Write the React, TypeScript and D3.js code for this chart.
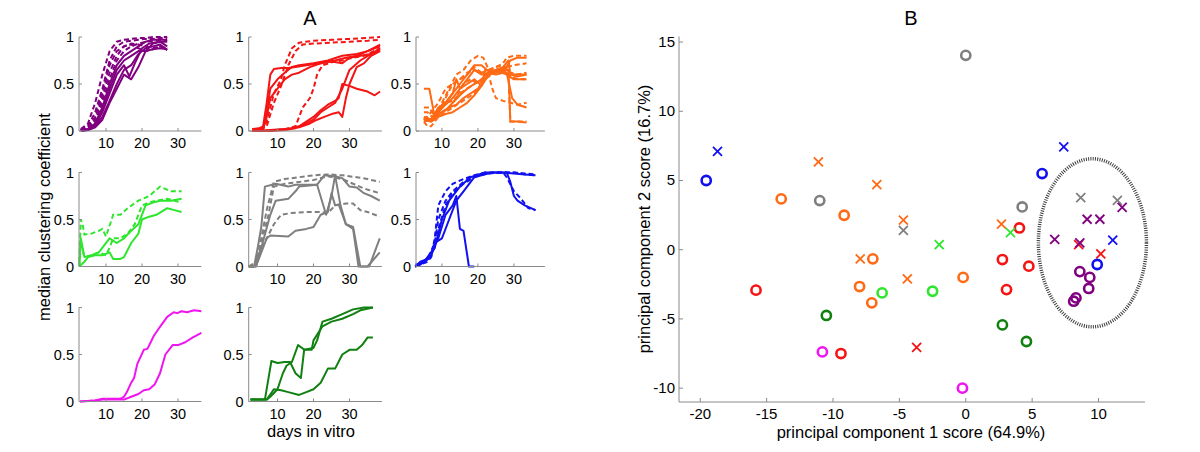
import React from "react";
import * as d3 from "d3";

// ---------- Panel A data: [day, median clustering coefficient] ----------
const daysTicks = [10, 20, 30];
const coefTicks = [0, 0.5, 1];

const purpleSolid = [
  [[3,0.01],[5,0.02],[7,0.08],[9,0.25],[11,0.5],[13,0.7],[15,0.8],[17,0.85],[19,0.9],[21,0.95],[23,0.97],[25,0.97],[27,0.97]],
  [[3,0],[5,0.02],[7,0.06],[9,0.2],[11,0.4],[13,0.6],[15,0.7],[16.5,0.58],[18,0.72],[20,0.88],[22,0.93],[25,0.95],[27,0.95]],
  [[3,0],[5,0.01],[7,0.05],[9,0.15],[11,0.32],[13,0.5],[15,0.65],[17,0.7],[19,0.82],[21,0.88],[23,0.9],[25,0.92],[27,0.86]],
  [[3,0],[5,0.01],[7,0.04],[9,0.12],[11,0.3],[13,0.45],[15,0.6],[17,0.55],[19,0.68],[21,0.85],[23,0.93],[25,0.95],[27,0.9]],
  [[3,0],[5,0.02],[7,0.07],[9,0.22],[11,0.45],[13,0.65],[15,0.75],[17,0.8],[19,0.85],[21,0.85],[23,0.87],[25,0.88],[27,0.87]],
];
const purpleDashed = [
  [[3,0.02],[5,0.08],[7,0.3],[9,0.6],[11,0.85],[13,0.95],[15,0.97],[17,0.98],[19,0.99],[21,0.99],[23,1],[25,1],[27,1]],
  [[3,0.01],[5,0.05],[7,0.2],[9,0.45],[11,0.75],[13,0.9],[15,0.95],[17,0.96],[19,0.97],[21,0.98],[23,0.98],[25,0.99],[27,0.99]],
  [[3,0.01],[5,0.03],[7,0.12],[9,0.35],[11,0.62],[13,0.8],[15,0.9],[17,0.93],[19,0.92],[21,0.9],[23,0.88],[25,0.9],[27,0.88]],
  [[3,0.01],[5,0.04],[7,0.15],[9,0.4],[11,0.7],[13,0.85],[15,0.9],[17,0.92],[19,0.88],[21,0.85],[23,0.87],[25,0.9],[27,0.88]],
  [[3,0.01],[5,0.03],[7,0.1],[9,0.3],[11,0.55],[13,0.75],[15,0.85],[17,0.9],[19,0.93],[21,0.95],[23,0.96],[25,0.97],[27,0.96]],
];

const redSolid = [
  [[3,0.02],[5,0.03],[6,0.05],[7,0.3],[8,0.6],[9,0.66],[11,0.67],[13,0.67],[15,0.68],[18,0.7],[22,0.72],[26,0.75],[29,0.78],[32,0.8],[35,0.85],[38.5,0.9]],
  [[3,0.02],[6,0.03],[7,0.2],[8,0.45],[10,0.55],[12,0.62],[14,0.68],[16,0.7],[20,0.72],[24,0.75],[28,0.8],[32,0.82],[35,0.85],[38.5,0.92]],
  [[3,0],[6,0.02],[7,0.15],[8,0.35],[10,0.45],[12,0.55],[14,0.6],[16,0.62],[19,0.68],[22,0.72],[25,0.74],[28,0.72],[30,0.78],[33,0.8],[36,0.82],[38.5,0.86]],
  [[3,0],[6,0],[10,0.01],[13,0.02],[16,0.05],[18,0.1],[20,0.15],[22,0.22],[24,0.28],[26,0.32],[27,0.35],[28,0.5],[30,0.48],[32,0.45],[35,0.42],[37,0.38],[38.5,0.42]],
  [[3,0],[8,0.01],[12,0.02],[16,0.04],[19,0.08],[21,0.12],[23,0.15],[25,0.18],[27,0.2],[28,0.15],[29,0.35],[30,0.5],[32,0.68],[34,0.72],[36,0.8],[38.5,0.85]],
  [[3,0],[8,0],[12,0.01],[15,0.03],[18,0.08],[20,0.12],[22,0.2],[24,0.25],[26,0.3],[28,0.45],[30,0.65],[33,0.75],[36,0.82],[38.5,0.88]],
];
const redDashed = [
  [[3,0],[5,0.01],[6,0.03],[7,0.1],[8,0.25],[9,0.4],[11,0.55],[12,0.7],[14,0.88],[16,0.94],[20,0.96],[25,0.97],[30,0.98],[35,0.99],[38.5,1]],
  [[3,0],[5,0.01],[7,0.05],[9,0.3],[11,0.48],[13,0.7],[15,0.85],[17,0.92],[20,0.93],[25,0.94],[30,0.95],[35,0.96],[38.5,0.97]],
  [[3,0],[8,0],[12,0.02],[15,0.05],[17,0.25],[19,0.35],[20,0.45],[21,0.6],[22.5,0.7],[25,0.73],[28,0.75],[31,0.78],[34,0.8],[38.5,0.88]],
];

const orangeSolid = [
  [[5,0.45],[6.5,0.45],[8,0.15],[10,0.2],[12,0.25],[14,0.28],[16,0.35],[18,0.4],[20,0.45],[22,0.55],[24,0.62],[26,0.65],[28,0.62],[29.5,0.35],[31,0.28],[33.5,0.25]],
  [[5,0.12],[7,0.1],[9,0.15],[11,0.18],[13,0.2],[15,0.25],[17,0.3],[19,0.38],[21,0.48],[23,0.6],[25,0.65],[27,0.66],[28.5,0.65],[29,0.1],[31,0.1],[33.5,0.09]],
  [[5,0.12],[7,0.13],[9,0.2],[11,0.28],[13,0.35],[15,0.45],[17,0.55],[19,0.65],[21,0.6],[23,0.62],[25,0.65],[27,0.68],[28.5,0.75],[29,0.6],[31,0.58],[33.5,0.6]],
  [[5,0.1],[7,0.12],[9,0.18],[11,0.22],[13,0.3],[15,0.38],[17,0.45],[19,0.5],[21,0.55],[23,0.62],[25,0.6],[27,0.62],[29,0.75],[31,0.78],[33.5,0.78]],
  [[5,0.15],[7,0.12],[9,0.25],[11,0.3],[13,0.4],[14,0.55],[15,0.45],[17,0.5],[19,0.55],[21,0.48],[22,0.65],[24,0.62],[26,0.63],[28,0.6],[30,0.55],[33.5,0.55]],
  [[5,0.13],[7,0.1],[9,0.22],[11,0.3],[13,0.4],[15,0.5],[17,0.6],[19,0.7],[21,0.7],[22.5,0.65],[24,0.65],[26,0.62],[28,0.65],[30,0.6],[33.5,0.6]],
];
const orangeDashed = [
  [[5,0.25],[6.5,0.25],[8,0.15],[10,0.3],[12,0.45],[14,0.6],[16,0.65],[18,0.75],[20,0.8],[21.5,0.78],[23,0.65],[25,0.68],[27,0.72],[28,0.78],[30,0.8],[33.5,0.8]],
  [[5,0.12],[7,0.15],[9,0.2],[11,0.35],[13,0.5],[15,0.55],[17,0.6],[19,0.68],[21,0.62],[23,0.6],[25,0.62],[27,0.65],[29,0.58],[31,0.55],[33.5,0.55]],
  [[5,0.15],[7,0.12],[9,0.22],[11,0.3],[13,0.32],[15,0.4],[17,0.45],[19,0.5],[21,0.55],[23,0.6],[24,0.45],[25,0.35],[27,0.32],[29,0.3],[31,0.28],[33.5,0.3]],
  [[5,0.1],[6,0.05],[7,0.05],[9,0.15],[11,0.2],[13,0.25],[15,0.3],[17,0.35],[19,0.4],[21,0.5],[23,0.6],[25,0.65],[27,0.68],[28.5,0.6],[29,0.1],[31,0.1],[33.5,0.1]],
  [[5,0.12],[7,0.2],[9,0.3],[11,0.45],[13,0.5],[15,0.55],[17,0.62],[19,0.65],[21,0.62],[23,0.65],[25,0.68],[27,0.7],[29,0.62],[31,0.6],[33.5,0.62]],
  [[5,0.2],[6,0.2],[8,0.12],[10,0.2],[12,0.25],[14,0.35],[16,0.5],[18,0.55],[20,0.5],[22,0.55],[24,0.62],[26,0.65],[28,0.68],[30,0.7],[33.5,0.72]],
];

const greenSolid = [
  [[2.6,0.02],[3,0.3],[3.5,0.2],[4,0.1],[6,0.12],[8,0.15],[9,0.2],[11,0.3],[13,0.25],[15,0.3],[17,0.38],[19,0.45],[21,0.65],[23,0.68],[25,0.7],[28,0.7],[31,0.72]],
  [[2.6,0],[4,0.05],[5,0.1],[7,0.12],[9,0.12],[11,0.15],[12,0.08],[14,0.08],[15,0.1],[17,0.25],[19,0.35],[20,0.5],[22,0.53],[24,0.55],[27,0.62],[29,0.6],[31,0.58]],
];
const greenDashed = [
  [[2.6,0.05],[3,0.5],[3.5,0.45],[4,0.34],[6,0.35],[8,0.38],[9,0.4],[10,0.32],[12,0.55],[14,0.55],[16,0.62],[19,0.7],[22,0.75],[25,0.85],[28,0.8],[31,0.8]],
  [[2.6,0],[3,0.25],[4,0.1],[6,0.12],[8,0.15],[10,0.12],[11,0.2],[12,0.3],[14,0.3],[16,0.35],[18,0.45],[20,0.65],[22,0.68],[24,0.7],[27,0.72],[31,0.68]],
];

const graySolid = [
  [[2,0],[3.5,0],[4.5,0.2],[5.5,0.42],[6.5,0.85],[9.5,0.88],[13,0.85],[15,0.87],[21,0.87],[23,0.97],[26,0.96],[28,0.94],[30,0.85],[32,0.84],[34,0.78],[36,0.75],[38.4,0.7]],
  [[2,0],[4,0],[5.5,0.2],[8,0.55],[9.5,0.7],[13,0.72],[15,0.8],[16,0.85],[21,0.87],[23.5,0.55],[25,0.75],[26,0.97],[27.5,0.65],[29,0.45],[31,0.42],[33,0],[35.5,0],[38.4,0.3]],
  [[2,0],[4,0],[5.5,0.15],[7,0.3],[8,0.33],[13,0.32],[15,0.38],[18,0.4],[20,0.42],[22,0.55],[24,0.58],[25,0.78],[26,0.65],[27,0.66],[29,0.45],[31,0.4],[32.5,0],[35,0],[38.4,0.15]],
];
const grayDashed = [
  [[2,0],[4,0],[5,0.2],[7,0.6],[9,0.9],[12,0.93],[16,0.95],[20,0.97],[24,0.98],[28,0.97],[32,0.95],[35,0.93],[38.4,0.9]],
  [[2,0],[4,0],[5.5,0.25],[7.5,0.55],[9,0.85],[12,0.88],[16,0.9],[20,0.92],[24,0.96],[28,0.93],[31,0.88],[34,0.83],[38.4,0.78]],
  [[2,0],[4,0.05],[5.5,0.2],[7,0.3],[9,0.45],[11,0.55],[14,0.57],[18,0.58],[22,0.58],[24,0.57],[26,0.65],[29,0.67],[31,0.67],[33,0.6],[35,0.58],[38.4,0.53]],
];

const blueSolid = [
  [[2.6,0],[4,0.03],[5,0.05],[7,0.1],[8,0.25],[10,0.3],[12,0.5],[14,0.7],[16,0.8],[19,0.95],[22,0.98],[24,1],[28,1],[29,0.9],[30,0.75],[31,0.7],[33,0.65],[36,0.6]],
  [[2.6,0],[4,0.02],[5,0.05],[7,0.15],[9,0.3],[11,0.55],[13,0.65],[14,0.75],[15,0.4],[16,0.38],[17.5,0],[19,0]],
  [[2.6,0],[4,0.05],[6,0.08],[8,0.2],[10,0.5],[12,0.7],[15,0.85],[18,0.95],[22,1],[26,1],[30,0.99],[33,0.98],[36,0.97]],
];
const blueDashed = [
  [[2.6,0],[4,0.02],[6,0.05],[7,0.1],[8,0.3],[9,0.65],[11,0.8],[13,0.88],[16,0.93],[19,0.97],[22,1],[26,1],[30,1],[33,0.98],[36,0.97]],
  [[2.6,0.02],[4,0.03],[6,0.08],[8,0.25],[9,0.5],[11,0.7],[13,0.8],[16,0.9],[19,0.96],[23,0.99],[27,1],[28,0.95],[30,0.8],[32,0.72],[34,0.62],[36,0.6]],
  [[2.6,0],[4,0.04],[6,0.07],[8,0.2],[9,0.4],[11,0.65],[13,0.78],[16,0.88],[19,0.95],[22,0.99],[26,1],[30,1],[33,0.99],[36,0.98]],
];

const magentaSolid = [
  [[2.8,0],[7,0.01],[9,0.03],[14,0.03],[15,0.05],[15.8,0.1],[17,0.2],[17.8,0.25],[18.7,0.4],[20.5,0.55],[21.5,0.56],[23.3,0.7],[25.1,0.8],[27,0.9],[28.8,0.95],[29.8,0.94],[31,0.96],[32.5,0.95],[34.5,0.97],[36.5,0.96]],
  [[2.8,0],[7,0.01],[9,0.02],[15,0.02],[17,0.05],[19,0.08],[20.5,0.12],[22,0.13],[23.5,0.18],[25,0.3],[26.5,0.5],[28.5,0.6],[30,0.6],[32,0.63],[34,0.68],[36.5,0.73]],
];

const darkGreenSolid = [
  [[2.5,0.02],[6.5,0.02],[8.3,0.43],[10,0.41],[12,0.42],[13.5,0.42],[15,0.3],[16.5,0.25],[17.4,0.55],[20,0.57],[21,0.65],[22.5,0.85],[25,0.88],[28,0.93],[31,0.98],[34,1],[36.5,1]],
  [[2.5,0.02],[7,0.02],[8,0.05],[10,0.13],[11.5,0.3],[12.5,0.38],[14,0.42],[15.7,0.6],[17.5,0.55],[19.5,0.55],[20,0.65],[22.5,0.8],[25,0.85],[28,0.88],[31,0.93],[33,0.97],[36.5,1]],
  [[2.5,0.02],[7,0.02],[9,0.13],[11,0.12],[13,0.1],[16,0.07],[18,0.1],[20,0.13],[22,0.2],[24,0.35],[26,0.35],[28,0.5],[30,0.55],[32,0.55],[33.5,0.6],[35,0.68],[36.5,0.68]],
];

// ---------- Panel B data: PCA scores ----------
const pcXTicks = [-20, -15, -10, -5, 0, 5, 10];
const pcYTicks = [-10, -5, 0, 5, 10, 15];
// [pc1, pc2]
const blueO = [[-19.55,5.0],[5.75,5.5],[9.9,-1.07]];
const blueX = [[-18.7,7.1],[7.38,7.42],[11.07,0.69]];
const orangeO = [[-13.9,3.67],[-9.16,2.49],[-7.0,-0.66],[-8.0,-2.66],[-7.08,-3.84],[-0.2,-2.0]];
const orangeX = [[-11.1,6.34],[-6.7,4.7],[-4.7,2.13],[2.69,1.84],[-7.95,-0.66],[-4.4,-2.1]];
const grayO = [[-11.0,3.55],[0,14.04],[4.25,3.09]];
const grayX = [[-4.7,1.4],[8.66,3.77],[11.42,3.57]];
const purpleO = [[8.59,-1.58],[9.34,-2.0],[9.26,-2.8],[8.3,-3.48],[8.13,-3.72]];
const purpleX = [[11.78,3.05],[9.14,2.2],[10.1,2.2],[6.7,0.74],[8.59,0.49]];
const redO = [[4.04,1.57],[2.76,-0.71],[4.75,-1.19],[3.07,-2.88],[-15.8,-2.92],[-9.4,-7.5]];
const redX = [[8.5,0.37],[10.17,-0.3],[-3.7,-7.06]];
const greenO = [[-2.5,-3.0],[-6.3,-3.12]];
const greenX = [[3.37,1.24],[-2.0,0.37]];
const darkGreenO = [[2.76,-5.43],[4.57,-6.63],[-10.5,-4.75]];
const magentaO = [[-0.25,-10.0],[-10.8,-7.38]];
// cluster ellipse: center and radii in score units
const clusterCenter = [9.54, 0.5];
const clusterRadii = [4.07, 6.07];

const C = {
  purple: "#800080",
  red: "#f51414",
  orange: "#ff6a14",
  green: "#2ee62e",
  gray: "#7f7f7f",
  blue: "#1010f0",
  magenta: "#f014f0",
  darkGreen: "#108010",
};

const AXIS = "#8a8a8a";
const FONT = "Liberation Sans, Arial, sans-serif";

type Pt = number[];

function SmallPanel({ left, top, xDomain, solid, dashed, color }:
  { left: number; top: number; xDomain: number[]; solid: Pt[][]; dashed: Pt[][]; color: string }) {
  const h = 94;
  const ppd = 3.6;
  const x = d3.scaleLinear().domain(xDomain).range([left, left + (xDomain[1] - xDomain[0]) * ppd]);
  const y = d3.scaleLinear().domain([0, 1]).range([top + h, top]);
  const line = d3.line<Pt>().x((p) => x(p[0])).y((p) => y(p[1]));
  const x0 = x.range()[0], x1 = x.range()[1];
  return (
    <g>
      {solid.map((s, i) => (
        <path key={"s" + i} d={line(s) || ""} fill="none" stroke={color} strokeWidth={2} strokeLinejoin="round" />
      ))}
      {dashed.map((s, i) => (
        <path key={"d" + i} d={line(s) || ""} fill="none" stroke={color} strokeWidth={2} strokeDasharray="5 3" />
      ))}
      <line x1={x0} x2={x0} y1={y(0)} y2={y(1)} stroke={AXIS} strokeWidth={1} />
      <line x1={x0} x2={x1} y1={y(0)} y2={y(0)} stroke={AXIS} strokeWidth={1} />
      {coefTicks.map((t) => (
        <g key={"yt" + t}>
          <line x1={x0} x2={x0 + 3} y1={y(t)} y2={y(t)} stroke={AXIS} />
          <text x={x0 - 5} y={y(t) + 5} textAnchor="end" fontSize={14.5} fontFamily={FONT} fill="#000">{t}</text>
        </g>
      ))}
      {daysTicks.map((t) => (
        <g key={"xt" + t}>
          <line x1={x(t)} x2={x(t)} y1={y(0)} y2={y(0) - 3} stroke={AXIS} />
          <text x={x(t)} y={y(0) + 17} textAnchor="middle" fontSize={14.5} fontFamily={FONT} fill="#000">{t}</text>
        </g>
      ))}
    </g>
  );
}

function Circle({ cx, cy, color }: { cx: number; cy: number; color: string }) {
  return <circle cx={cx} cy={cy} r={4.6} fill="none" stroke={color} strokeWidth={2.6} />;
}
function Cross({ cx, cy, color }: { cx: number; cy: number; color: string }) {
  const s = 4.5;
  return (
    <g stroke={color} strokeWidth={1.8}>
      <line x1={cx - s} y1={cy - s} x2={cx + s} y2={cy + s} />
      <line x1={cx - s} y1={cy + s} x2={cx + s} y2={cy - s} />
    </g>
  );
}

export default function App() {
  const colL = [79, 248.7, 416];
  const rowT = [37, 172.5, 307.5];
  const xd1 = [2.5, 36.5], xd2 = [2, 39], xd3 = [2.8, 38.6];

  const bx = d3.scaleLinear().domain([-21.6, 13.5]).range([679, 1145]);
  const by = d3.scaleLinear().domain([-11, 15.4]).range([402, 36.5]);

  const groups: { o: Pt[]; x: Pt[]; color: string }[] = [
    { o: orangeO, x: orangeX, color: C.orange },
    { o: grayO, x: grayX, color: C.gray },
    { o: redO, x: redX, color: C.red },
    { o: greenO, x: greenX, color: C.green },
    { o: darkGreenO, x: [], color: C.darkGreen },
    { o: magentaO, x: [], color: C.magenta },
    { o: purpleO, x: purpleX, color: C.purple },
    { o: blueO, x: blueX, color: C.blue },
  ];

  const ecx = bx(clusterCenter[0]);
  const ecy = by(clusterCenter[1]);
  const erx = bx(clusterCenter[0] + clusterRadii[0]) - ecx;
  const ery = ecy - by(clusterCenter[1] + clusterRadii[1]);

  return (
    <svg width={1200} height={452} style={{ position: "absolute", left: 0, top: 0, background: "#fff" }}>
      <rect x={0} y={0} width={1200} height={452} fill="#fff" />
      {/* Panel A */}
      <text x={310} y={25} textAnchor="middle" fontSize={20} fontFamily={FONT}>A</text>
      <SmallPanel left={colL[0]} top={rowT[0]} xDomain={xd1} solid={purpleSolid} dashed={purpleDashed} color={C.purple} />
      <SmallPanel left={colL[1]} top={rowT[0]} xDomain={xd2} solid={redSolid} dashed={redDashed} color={C.red} />
      <SmallPanel left={colL[2]} top={rowT[0]} xDomain={xd3} solid={orangeSolid} dashed={orangeDashed} color={C.orange} />
      <SmallPanel left={colL[0]} top={rowT[1]} xDomain={xd1} solid={greenSolid} dashed={greenDashed} color={C.green} />
      <SmallPanel left={colL[1]} top={rowT[1]} xDomain={xd2} solid={graySolid} dashed={grayDashed} color={C.gray} />
      <SmallPanel left={colL[2]} top={rowT[1]} xDomain={xd3} solid={blueSolid} dashed={blueDashed} color={C.blue} />
      <SmallPanel left={colL[0]} top={rowT[2]} xDomain={xd1} solid={magentaSolid} dashed={[]} color={C.magenta} />
      <SmallPanel left={colL[1]} top={rowT[2]} xDomain={xd2} solid={darkGreenSolid} dashed={[]} color={C.darkGreen} />
      <text transform="translate(50,217) rotate(-90)" textAnchor="middle" fontSize={16.5} fontFamily={FONT}>median clustering coefficient</text>
      <text x={311} y={437} textAnchor="middle" fontSize={16.5} fontFamily={FONT}>days in vitro</text>

      {/* Panel B */}
      <text x={911} y={25} textAnchor="middle" fontSize={20} fontFamily={FONT}>B</text>
      <ellipse cx={ecx} cy={ecy} rx={erx} ry={ery} fill="none" stroke="#3a3a3a" strokeWidth={3.5} strokeDasharray="1 1.3" />
      {groups.map((g, gi) => (
        <g key={"g" + gi}>
          {g.o.map((p, i) => <Circle key={"o" + i} cx={bx(p[0])} cy={by(p[1])} color={g.color} />)}
          {g.x.map((p, i) => <Cross key={"x" + i} cx={bx(p[0])} cy={by(p[1])} color={g.color} />)}
        </g>
      ))}
      <line x1={bx.range()[0]} x2={bx.range()[0]} y1={by.range()[0]} y2={by.range()[1]} stroke={AXIS} />
      <line x1={bx.range()[0]} x2={bx.range()[1]} y1={by.range()[0]} y2={by.range()[0]} stroke={AXIS} />
      {pcYTicks.map((t) => (
        <g key={"by" + t}>
          <line x1={bx.range()[0]} x2={bx.range()[0] + 4} y1={by(t)} y2={by(t)} stroke={AXIS} />
          <text x={bx.range()[0] - 4} y={by(t) + 5} textAnchor="end" fontSize={15} fontFamily={FONT}>{t}</text>
        </g>
      ))}
      {pcXTicks.map((t) => (
        <g key={"bx" + t}>
          <line x1={bx(t)} x2={bx(t)} y1={by.range()[0]} y2={by.range()[0] - 4} stroke={AXIS} />
          <text x={bx(t)} y={by.range()[0] + 17} textAnchor="middle" fontSize={15} fontFamily={FONT}>{t}</text>
        </g>
      ))}
      <text x={911} y={438} textAnchor="middle" fontSize={16.5} fontFamily={FONT}>principal component 1 score (64.9%)</text>
      <text transform="translate(650,219) rotate(-90)" textAnchor="middle" fontSize={16.5} fontFamily={FONT}>principal component 2 score (16.7%)</text>
    </svg>
  );
}
